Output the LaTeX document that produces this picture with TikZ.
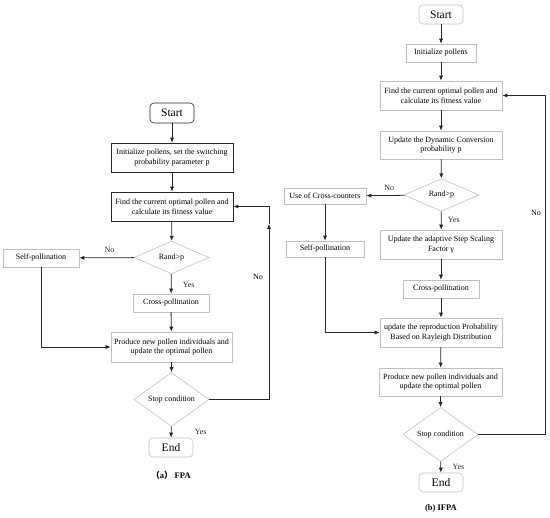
\documentclass[tikz,border=0pt]{standalone}
\usepackage{fontspec}
\setmainfont{Liberation Serif}
\newfontfamily\cjk{Noto Sans CJK SC}
\usetikzlibrary{
    arrows.meta,
    shapes.geometric
}
\tikzset{
    flowarrow/.style={-{Latex[length=5pt,width=4.2pt]}, black!85, line width=0.8pt},
    procbox/.style={draw=black!25, line width=0.6pt, rectangle, align=center,
        inner sep=1pt, font=\fontsize{8}{9.6}\selectfont},
    keybox/.style={procbox, draw=black!85},
    decision/.style={draw=black!25, line width=0.6pt, diamond, inner sep=0pt,
        font=\fontsize{8}{9.6}\selectfont},
    terminal/.style={draw=black!25, line width=0.6pt, rounded corners=4pt,
        inner sep=0pt, font=\fontsize{11.5}{13}\selectfont},
    note/.style={font=\fontsize{8}{9.6}\selectfont},
    caption/.style={font=\bfseries\fontsize{8.5}{10}\selectfont}
}

\begin{document}
\begin{tikzpicture}[x=1pt, y=-1pt]
    \useasboundingbox (0,0) rectangle (550,518);

    % (a) FPA
    \node[terminal, draw=black!85, minimum width=44, minimum height=20] (sA) at (172,113) {Start};
    \node[keybox, minimum width=122, minimum height=29] (iA) at (172,157.5)
        {Initialize pollens, set the switching\\probability parameter p};
    \node[keybox, minimum width=122, minimum height=29] (fA) at (172,206.5)
        {Find the current optimal pollen and\\calculate its fitness value};
    \node[decision, minimum width=75, minimum height=31] (dA) at (171.5,257.5) {Rand>p};
    \node[procbox, minimum width=76, minimum height=18] (spA) at (41,258) {Self-pollination};
    \node[procbox, minimum width=76, minimum height=18] (cA) at (171,303) {Cross-pollination};
    \node[procbox, minimum width=121, minimum height=30] (pA) at (171.5,347)
        {Produce new pollen individuals and\\update the optimal pollen};
    \node[decision, minimum width=75, minimum height=35] (tA) at (171.5,399.5) {Stop condition};
    \node[terminal, minimum width=44, minimum height=19] (eA) at (171,447.5) {End};
    \node[caption] (capA) at (171,475) {{\cjk （}a{\cjk ）} FPA};
    \coordinate (upA) at (269,224);

    \draw[flowarrow] (sA) -- (iA);
    \draw[flowarrow] (iA) -- (fA);
    \draw[flowarrow] (fA) -- (dA);
    \draw[flowarrow] (dA) -- (spA) node[note, pos=0.45, above=1pt] (noA) {No};
    \draw[flowarrow] (dA) -- (cA) node[note, pos=0.55, right=8pt] (yesA) {Yes};
    \draw[flowarrow] (cA) -- (pA);
    \draw[flowarrow] (spA.south) |- (pA.west);
    \draw[flowarrow] (pA) -- (tA);
    \draw[flowarrow] (tA) -- (eA) node[note, pos=0.45, right=20pt] (yesA2) {Yes};
    \draw[flowarrow] (tA.east) -| (upA);
    \draw[flowarrow] (upA) |- (fA.east);
    \node[note] (noA2) at (258,277) {No};

    % (b) IFPA
    \node[terminal, minimum width=44, minimum height=19] (sB) at (441,14.5) {Start};
    \node[procbox, minimum width=70, minimum height=18] (iB) at (441,53) {Initialize pollens};
    \node[procbox, minimum width=122, minimum height=29] (fB) at (441,95.5)
        {Find the current optimal pollen and\\calculate its fitness value};
    \node[procbox, minimum width=122, minimum height=28] (uB) at (441,145)
        {Update the Dynamic Conversion\\probability p};
    \node[decision, minimum width=75, minimum height=32] (dB) at (441.5,195) {Rand>p};
    \node[procbox, minimum width=82, minimum height=16] (ccB) at (325,196) {Use of Cross-counters};
    \node[procbox, minimum width=78, minimum height=16] (spB) at (325,249) {Self-pollination};
    \node[procbox, minimum width=122, minimum height=29] (aB) at (441,244.5)
        {Update the adaptive Step Scaling\\Factor γ};
    \node[procbox, minimum width=76, minimum height=18] (cB) at (441,289) {Cross-pollination};
    \node[procbox, minimum width=122, minimum height=29] (rB) at (441,332.5)
        {update the reproduction Probability\\Based on Rayleigh Distribution};
    \node[procbox, minimum width=123, minimum height=28] (pB) at (440.5,382)
        {Produce new pollen individuals and\\update the optimal pollen};
    \node[decision, minimum width=75, minimum height=35] (tB) at (440.5,434.5) {Stop condition};
    \node[terminal, minimum width=44, minimum height=19] (eB) at (441,482.5) {End};
    \node[caption] (capB) at (441,508) {(b) IFPA};

    \draw[flowarrow] (sB) -- (iB);
    \draw[flowarrow] (iB) -- (fB);
    \draw[flowarrow] (fB) -- (uB);
    \draw[flowarrow] (uB) -- (dB);
    \draw[flowarrow] (dB) -- (ccB) node[note, pos=0.4, above=1pt] (noB) {No};
    \draw[flowarrow] (ccB) -- (spB);
    \draw[flowarrow] (dB) -- (aB) node[note, pos=0.45, right=3pt] (yesB) {Yes};
    \draw[flowarrow] (aB) -- (cB);
    \draw[flowarrow] (cB) -- (rB);
    \draw[flowarrow] (spB.south) |- (rB.west);
    \draw[flowarrow] (rB) -- (pB);
    \draw[flowarrow] (pB) -- (tB);
    \draw[flowarrow] (tB) -- (eB) node[note, pos=0.45, right=8pt] (yesB2) {Yes};
    \draw[flowarrow] (tB.east) -- ++(67,0) |- (fB.east);
    \node[note] (noB2) at (536,213) {No};
\end{tikzpicture}
\end{document}
